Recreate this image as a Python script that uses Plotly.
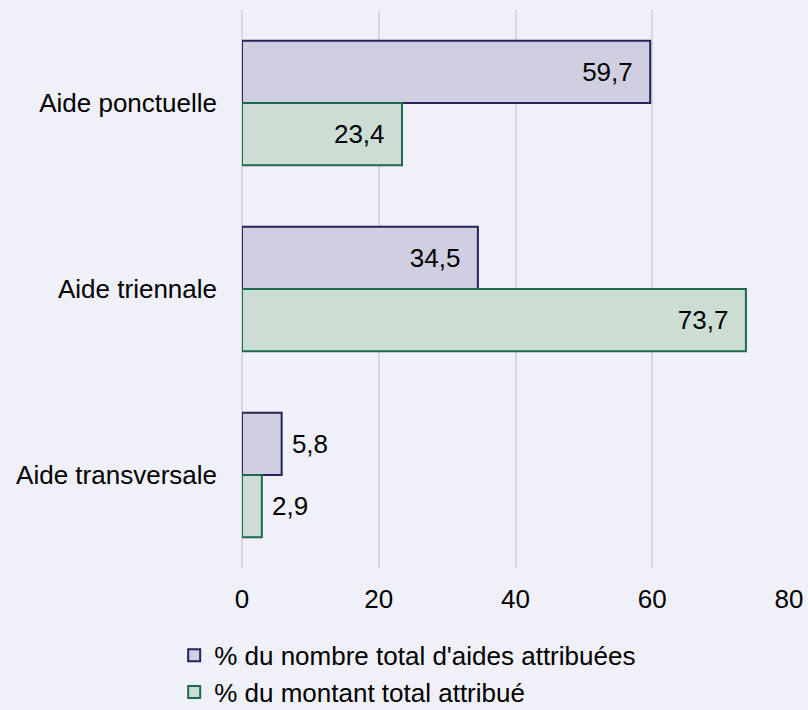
import plotly.graph_objects as go

categories = ["Aide ponctuelle", "Aide triennale", "Aide transversale"]
series_names = ["% du nombre total d'aides attribuées", "% du montant total attribué"]
nombre = [59.7, 34.5, 5.8]
montant = [23.4, 73.7, 2.9]
x_ticks = [0, 20, 40, 60, 80]

fills = ["#D0CFE1", "#CCDDD4"]
borders = ["#24235E", "#1D6A50"]
NB = "\u00a0"

fig = go.Figure()
for name, vals, fill, border in zip(series_names, [nombre, montant], fills, borders):
    # big bars get the label inside at the end, small ones outside
    positions = ["inside" if v >= 10 else "outside" for v in vals]
    templates = ["%{x:.1f}" + NB * 2 if v >= 10 else NB + "%{x:.1f}" for v in vals]
    fig.add_trace(
        go.Bar(
            y=categories,
            x=vals,
            orientation="h",
            name=name,
            marker=dict(color=fill, line=dict(color=border, width=2)),
            texttemplate=templates,
            textposition=positions,
            insidetextanchor="end",
            textfont=dict(color="black", size=26),
            cliponaxis=False,
        )
    )

fig.update_layout(
    width=808,
    height=710,
    barmode="group",
    bargap=0.33,
    bargroupgap=0,
    separators=", ",
    paper_bgcolor="#EFF0F8",
    plot_bgcolor="#EFF0F8",
    font=dict(family="Liberation Sans, Arial, sans-serif", size=26, color="black"),
    margin=dict(l=242, r=19, t=10, b=142, autoexpand=False),
    showlegend=True,
    legend=dict(
        orientation="v",
        x=-0.124,
        xanchor="left",
        yref="container",
        y=0.110,
        yanchor="top",
        traceorder="normal",
        font=dict(size=26),
        bgcolor="rgba(0,0,0,0)",
        itemwidth=30,
    ),
    xaxis=dict(
        range=[0, 80],
        tickvals=x_ticks,
        showgrid=True,
        gridcolor="#D8D8DC",
        gridwidth=2,
        zeroline=True,
        zerolinecolor="#D8D8DC",
        zerolinewidth=2,
        showline=False,
        ticks="",
        ticklabelstandoff=13,
        automargin=False,
    ),
    yaxis=dict(
        range=[2.5, -0.5],
        showgrid=False,
        ticks="",
        ticklabelstandoff=24,
        showline=False,
        automargin=False,
    ),
)

fig.write_html(
    "out.html",
    config={"displayModeBar": False},
    post_script="document.body.style.margin='0';",
)
